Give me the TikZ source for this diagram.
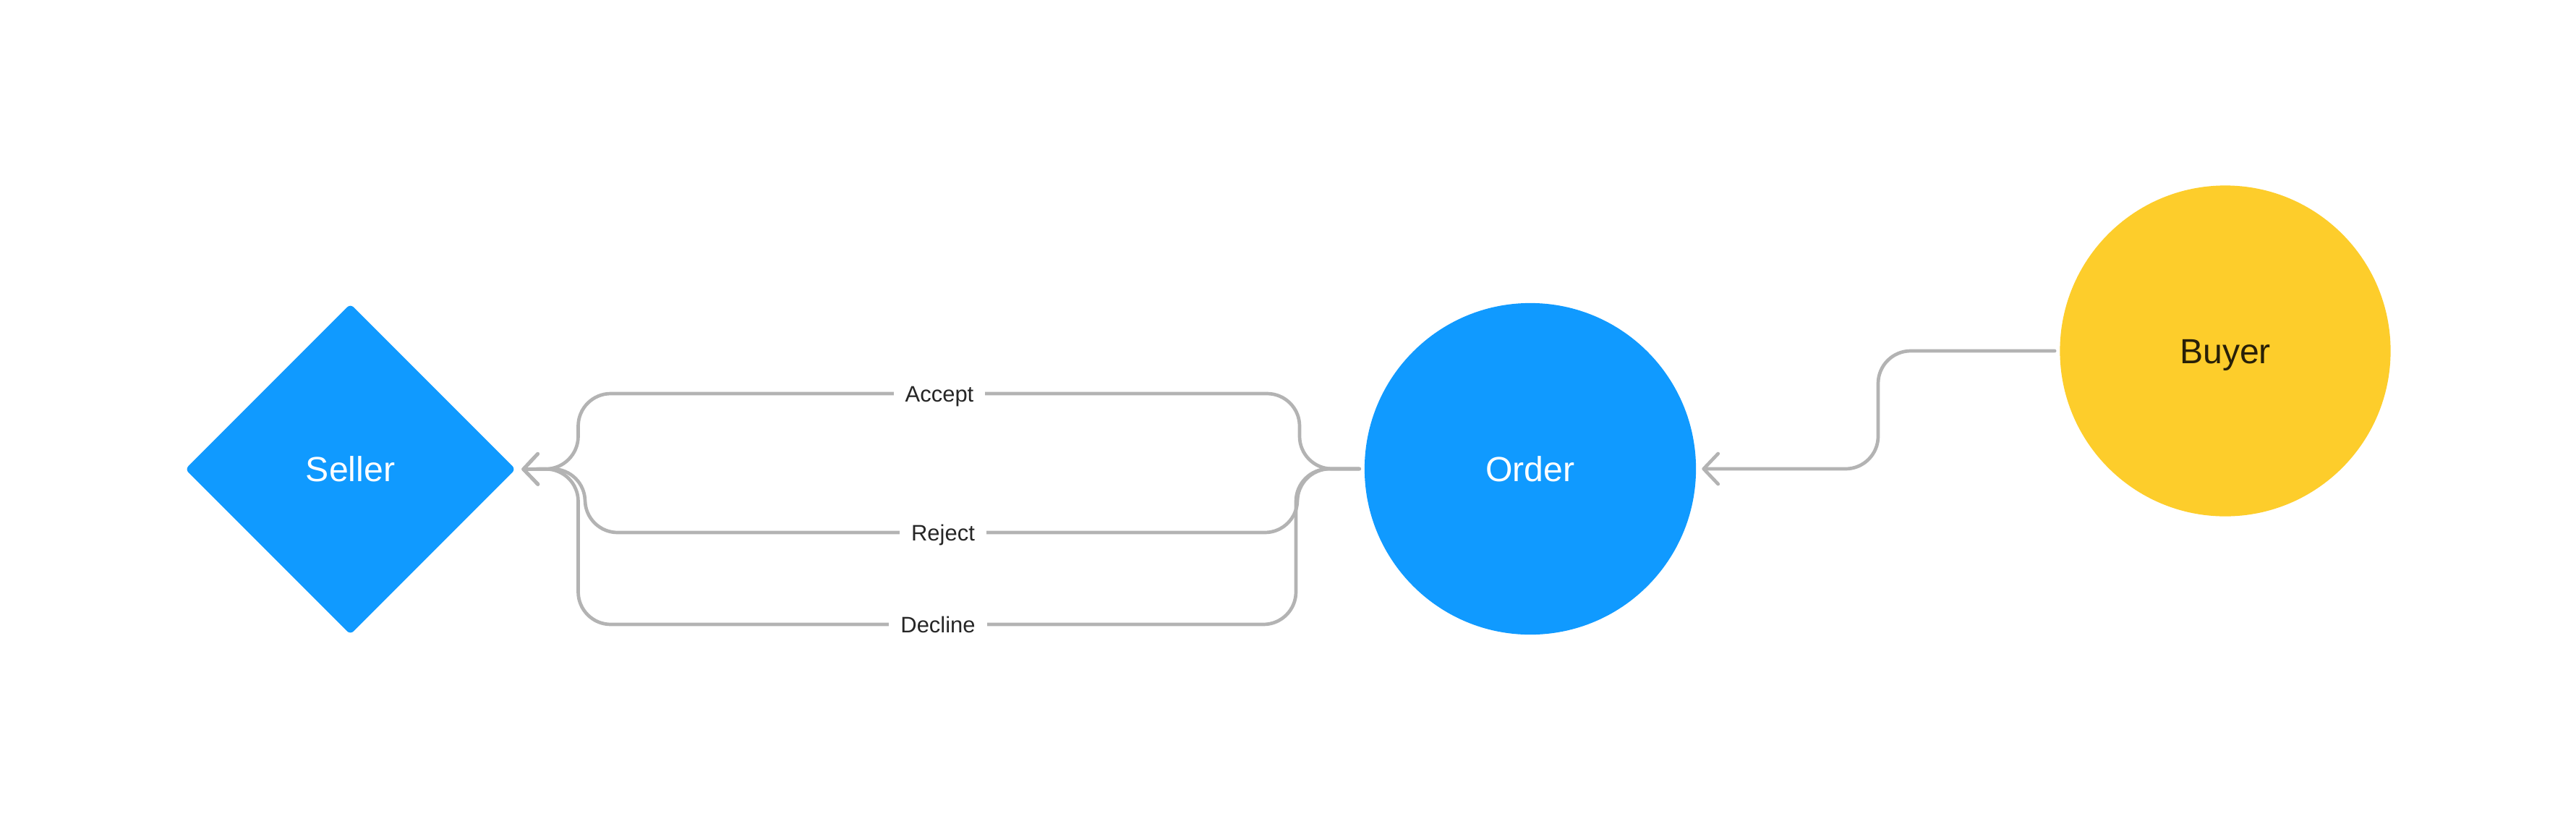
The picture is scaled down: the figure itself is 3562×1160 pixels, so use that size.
\documentclass[tikz,border=0pt]{standalone}
\usepackage{fontspec}
\setmainfont{Liberation Sans}
\usetikzlibrary{shapes.geometric,arrows.meta}
\definecolor{nodeblue}{RGB}{16,154,255}
\definecolor{nodeyellow}{RGB}{253,205,43}
\definecolor{edgegray}{RGB}{179,179,179}
\definecolor{labeltext}{RGB}{38,38,38}
\definecolor{buyertext}{RGB}{40,32,8}
\begin{document}
\begin{tikzpicture}[x=0.01cm,y=-0.01cm,
  bignode/.style={inner sep=0pt, font=\fontsize{13.7}{16}\selectfont,
    text height=9.8pt, text depth=0pt},
  bluediamond/.style={bignode, diamond, aspect=1, fill=nodeblue, text=white,
    minimum width=4.57cm, minimum height=4.57cm, rounded corners=0.06cm},
  bluecircle/.style={bignode, circle, fill=nodeblue, text=white, minimum size=4.58cm},
  yellowcircle/.style={bignode, circle, fill=nodeyellow, text=buyertext, minimum size=4.57cm},
  conn/.style={draw=edgegray, line width=0.047cm, line cap=round, line join=round,
    rounded corners=0.45cm, shorten <=0.065cm, shorten >=0.075cm,
    -{Straight Barb[round, length=0.2cm, width=0.42cm]}},
  lbl/.style={fill=white, text=labeltext, inner xsep=0.16cm, inner ysep=0.08cm,
    text height=6.3pt, text depth=0pt, font=\fontsize{8.8}{10}\selectfont}
]
\fill[white] (0,0) rectangle (3562,1160);
\useasboundingbox (0,0) rectangle (3562,1160);

\node[bluediamond] (seller) at (484.5,648.5) {Seller};
\node[bluecircle] (order) at (2116,648) {Order};
\node[yellowcircle] (buyer) at (3077,485) {Buyer};

% Buyer -> Order
\draw[conn] (buyer.west) -- (2597,485) -- (2597,648) -- (order.east);

% Order -> Seller (three options)
\draw[conn] (order.west) -- (1797,648) -- (1797,544) -- (799.5,544) -- (799.5,648) -- (seller.east);
\draw[conn] (order.west) -- (1794,648) -- (1794,736) -- (809,736) -- (809,648) -- (seller.east);
\draw[conn] (order.west) -- (1792,648) -- (1792,863) -- (799.5,863) -- (799.5,648) -- (seller.east);

\node[lbl] (accept) at (1299,544) {Accept};
\node[lbl] (reject) at (1304,736) {Reject};
\node[lbl] (decline) at (1297,863) {Decline};
\end{tikzpicture}
\end{document}
